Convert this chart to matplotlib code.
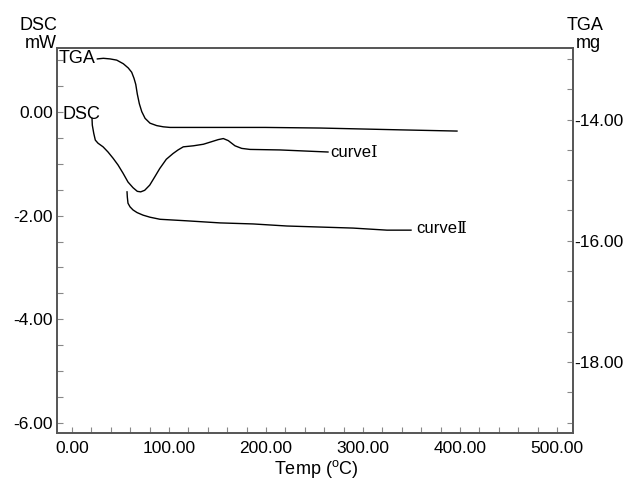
import numpy as np
import matplotlib
matplotlib.use("Agg")
import matplotlib.pyplot as plt
from matplotlib.ticker import FormatStrFormatter, MultipleLocator, FixedLocator

plt.rcParams['font.family'] = ['Liberation Sans', 'DejaVu Sans']
plt.rcParams['mathtext.fontset'] = 'custom'
plt.rcParams['mathtext.rm'] = 'Liberation Sans'

# TGA curve (right axis, mg)
tga_temp = [26.1, 32.3, 39.2, 46.1, 52.9, 58.0, 61.5, 63.9, 65.7, 67.3, 69.4, 71.9, 75.3, 80.4,
            87.3, 94.1, 101.0, 121.6, 199.0, 255.7, 338.1, 396.9]
tga_mass = [-13.00, -12.99, -13.00, -13.02, -13.08, -13.15, -13.22, -13.32, -13.42, -13.58, -13.74,
            -13.87, -13.98, -14.06, -14.10, -14.12, -14.13, -14.13, -14.13, -14.14, -14.17, -14.19]

# DSC curve I (left axis, mW)
c1_temp = [20.6, 20.9, 22.4, 24.0, 26.8, 32.0, 37.1, 42.3, 47.4, 52.6, 57.7, 62.9, 67.3, 70.8,
           74.9, 80.1, 85.3, 90.4, 97.2, 104.1, 109.3, 114.7, 125.1, 135.4, 144.0, 150.8, 156.0,
           161.1, 168.0, 174.9, 183.5, 214.4, 263.9]
c1_dsc = [-0.12, -0.25, -0.41, -0.54, -0.60, -0.67, -0.77, -0.89, -1.02, -1.18, -1.35, -1.46, -1.53,
          -1.54, -1.51, -1.41, -1.25, -1.09, -0.91, -0.80, -0.73, -0.67, -0.65, -0.62, -0.57, -0.53,
          -0.51, -0.55, -0.65, -0.70, -0.72, -0.73, -0.77]

# DSC curve II (left axis, mW)
c2_temp = [56.7, 57.0, 57.7, 59.8, 62.9, 67.0, 73.2, 80.4, 90.7, 118.6, 152.6, 186.6, 221.6,
           255.7, 289.7, 324.7, 349.5]
c2_dsc = [-1.54, -1.64, -1.76, -1.83, -1.89, -1.94, -1.99, -2.03, -2.07, -2.10, -2.14, -2.16, -2.20,
          -2.22, -2.24, -2.28, -2.28]

x_ticks = [0, 100, 200, 300, 400, 500]
dsc_ticks = [0, -2, -4, -6]
tga_ticks = [-14, -16, -18]

W, H = 631, 479
fig = plt.figure(figsize=(W / 100, H / 100), dpi=100)
ax = fig.add_axes([57 / W, 46 / H, 516 / W, 385 / H])
ax2 = ax.twinx()

spine_col = '#555555'
tick_col = '#888888'
fs = 12.5

ax.plot(c1_temp, c1_dsc, color='black', lw=1.0, solid_joinstyle='round')
ax.plot(c2_temp, c2_dsc, color='black', lw=1.0, solid_joinstyle='round')
ax2.plot(tga_temp, tga_mass, color='black', lw=1.0, solid_joinstyle='round')

ax.set_xlim(-15.5, 516.5)
ax.set_ylim(-6.2, 1.24)
ax2.set_ylim(-19.17, -12.82)

ax.xaxis.set_major_locator(FixedLocator(x_ticks))
ax.xaxis.set_minor_locator(MultipleLocator(20))
ax.yaxis.set_major_locator(FixedLocator(dsc_ticks))
ax.yaxis.set_minor_locator(MultipleLocator(0.5))
ax2.yaxis.set_major_locator(FixedLocator(tga_ticks))
ax2.yaxis.set_minor_locator(MultipleLocator(0.5))
ax.xaxis.set_major_formatter(FormatStrFormatter('%.2f'))
ax.yaxis.set_major_formatter(FormatStrFormatter('%.2f'))
ax2.yaxis.set_major_formatter(FormatStrFormatter('%.2f'))

ax.tick_params(axis='x', which='both', direction='in', length=4, width=0.8, color=tick_col,
               top=False, pad=6, labelsize=fs)
ax.tick_params(axis='y', which='both', direction='in', length=4, width=0.8, color=tick_col,
               right=False, pad=3, labelsize=fs)
ax2.tick_params(axis='y', which='both', direction='in', length=4, width=0.8, color=tick_col,
                left=False, pad=1, labelsize=fs)

for a in (ax, ax2):
    for s in a.spines.values():
        s.set_color(spine_col)
        s.set_linewidth(1.2)

# curve labels
ax2.annotate('TGA', xy=(tga_temp[0], tga_mass[0]), xytext=(-1, 0), textcoords='offset points',
             ha='right', va='center', fontsize=13)
ax.annotate('DSC', xy=(c1_temp[0], c1_dsc[0]), xytext=(6, 3), textcoords='offset points',
            ha='right', va='center', fontsize=13)
ax.annotate('curve\u2160', xy=(c1_temp[-1], c1_dsc[-1]), xytext=(1.5, 0), textcoords='offset points',
            ha='left', va='center', fontsize=12, family=['Liberation Sans', 'DejaVu Serif'])
ax.annotate('curve\u2161', xy=(c2_temp[-1], c2_dsc[-1]), xytext=(4, 1), textcoords='offset points',
            ha='left', va='center', fontsize=12, family=['Liberation Sans', 'DejaVu Serif'])

# axis titles
fig.text(57 / W, 1 - 30 / H, 'DSC', ha='right', va='baseline', fontsize=13)
fig.text(57 / W, 1 - 48 / H, 'mW', ha='right', va='baseline', fontsize=13)
fig.text(585 / W, 1 - 30 / H, 'TGA', ha='center', va='baseline', fontsize=13)
fig.text(588 / W, 1 - 48 / H, 'mg', ha='center', va='baseline', fontsize=13)
fig.text(316 / W, 1 - 474 / H, 'Temp ($^{\\mathrm{o}}$C)', ha='center', va='baseline', fontsize=13)

fig.savefig('out.png', dpi=100)
